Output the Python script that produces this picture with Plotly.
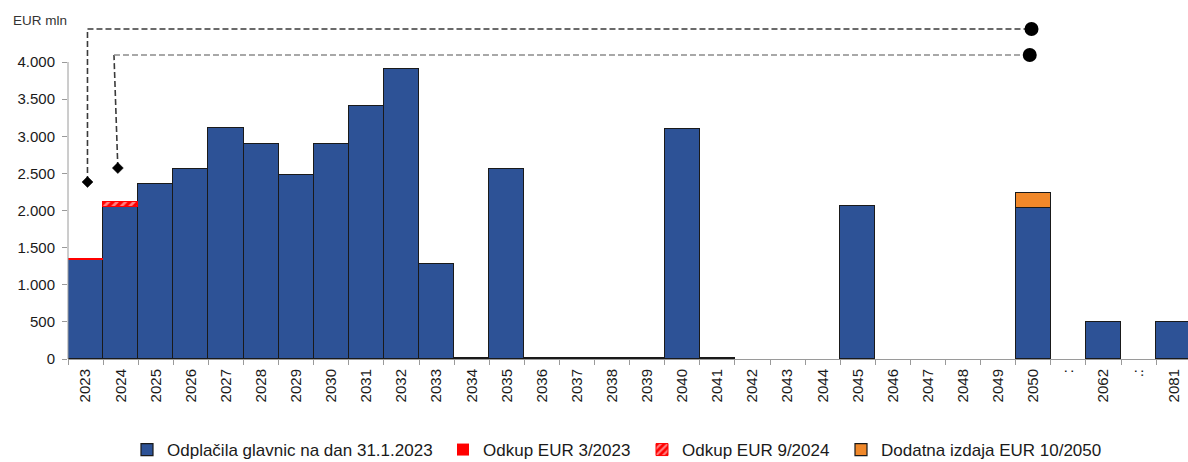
import plotly.graph_objects as go

# ---- data ----
categories = ["2023", "2024", "2025", "2026", "2027", "2028", "2029", "2030", "2031", "2032",
              "2033", "2034", "2035", "2036", "2037", "2038", "2039", "2040", "2041", "2042",
              "2043", "2044", "2045", "2046", "2047", "2048", "2049", "2050", ":", "2062", ".:", "2081"]
principal = [1330, 2045, 2355, 2557, 3117, 2892, 2473, 2895, 3410, 3905,
             1275, 15, 2560, 12, 12, 12, 12, 3100, 12, None,
             None, None, 2060, None, None, None, None, 2040, None, 500, None, 500]
buyback_2023 = [28] + [None] * 31
buyback_2024 = [None, 67] + [None] * 30
extra_2050 = [None] * 27 + [190] + [None] * 4
y_ticks = [0, 500, 1000, 1500, 2000, 2500, 3000, 3500, 4000]

names = ["Odplačila glavnic na dan 31.1.2023", "Odkup EUR 3/2023",
         "Odkup EUR 9/2024", "Dodatna izdaja EUR 10/2050"]

BLUE = "#2D5296"
RED = "#FF0000"
ORANGE = "#F0882A"
OUT = "#1a1a1a"
AXIS = "#9a9a9a"

fig = go.Figure()
fig.add_trace(go.Bar(x=categories, y=principal, name=names[0], legend="legend", showlegend=True,
                     marker=dict(color=BLUE, line=dict(color=OUT, width=1.2))))
fig.add_trace(go.Bar(x=categories, y=buyback_2023, name=names[1], legend="legend2", showlegend=True,
                     marker=dict(color=RED, line=dict(color=RED, width=0))))
fig.add_trace(go.Bar(x=categories, y=buyback_2024, name=names[2], legend="legend3", showlegend=True,
                     marker=dict(color=RED, line=dict(color=RED, width=1),
                                 pattern=dict(shape="/", fgcolor="white", bgcolor=RED,
                                              size=6, solidity=0.45))))
fig.add_trace(go.Bar(x=categories, y=extra_2050, name=names[3], legend="legend4", showlegend=True,
                     marker=dict(color=ORANGE, line=dict(color=OUT, width=1.2))))

# ---- layout geometry ----
W, H = 1188, 462
ML, MR, MT, MB = 68, 0, 5, 103
plot_w = W - ML - MR
plot_h = H - MT - MB
y_top = 4768
n_vis = plot_w / 35.1


def px_to_paper_x(px):
    return (px - ML) / plot_w


leg_font = dict(family="Liberation Sans, Arial, sans-serif", size=17, color="#1a1a1a")
legend_text_starts = [167, 483, 682, 881]
leg_common = dict(orientation="h", yanchor="middle", xanchor="left",
                  xref="container", yref="container",
                  font=leg_font, itemwidth=30, bgcolor="rgba(0,0,0,0)",
                  borderwidth=0, traceorder="normal", visible=True)
legends = {}
for i, ts in enumerate(legend_text_starts):
    key = "legend" if i == 0 else f"legend{i+1}"
    legends[key] = dict(leg_common, x=(ts - 40) / W, y=1 - 450 / H)

shapes = []
# y axis line only up to 4000
shapes.append(dict(type="line", xref="paper", yref="y", x0=0, x1=0, y0=0, y1=4000,
                   line=dict(color=AXIS, width=1)))
# dashed connectors
c1 = "#3a3a3a"
c2 = "#8c8c8c"
dash = "6px,3px"
shapes += [
    dict(type="line", xref="x", yref="y", x0=0.055, x1=0.055, y0=2384, y1=4444,
         line=dict(color=c1, width=1.6, dash=dash)),
    dict(type="line", xref="x", yref="y", x0=0.055, x1=26.85, y0=4444, y1=4444,
         line=dict(color=c1, width=1.6, dash=dash)),
    dict(type="line", xref="x", yref="y", x0=0.92, x1=0.81, y0=2572, y1=4094,
         line=dict(color=c1, width=1.6, dash=dash)),
    dict(type="line", xref="x", yref="y", x0=0.81, x1=26.8, y0=4094, y1=4094,
         line=dict(color=c2, width=1.6, dash=dash)),
]
# end markers
for xa, ya in [(0.055, 2384), (0.92, 2572)]:
    shapes.append(dict(type="path", xref="x", yref="y", xsizemode="pixel", ysizemode="pixel",
                       xanchor=xa, yanchor=ya, path="M0,-5.5 L5.5,0 L0,5.5 L-5.5,0 Z",
                       fillcolor="black", line=dict(color="black", width=0.5)))
for xa, ya in [(26.95, 4444), (26.9, 4094)]:
    shapes.append(dict(type="circle", xref="x", yref="y", xsizemode="pixel", ysizemode="pixel",
                       xanchor=xa, yanchor=ya, x0=-7, x1=7, y0=-7, y1=7,
                       fillcolor="black", line=dict(color="black", width=0)))

fig.update_layout(
    width=W, height=H,
    margin=dict(l=ML, r=MR, t=MT, b=MB, autoexpand=False),
    paper_bgcolor="white", plot_bgcolor="white",
    barmode="stack", bargap=0,
    separators=",.",
    showlegend=True,
    font=dict(family="Liberation Sans, Arial, sans-serif", color="#1a1a1a"),
    shapes=shapes,
    annotations=[dict(text="EUR mln", xref="paper", yref="y", x=px_to_paper_x(11), y=4566,
                      xanchor="left", yanchor="middle", showarrow=False,
                      font=dict(size=13.5, color="#333333"))],
    **legends,
)
fig.update_xaxes(type="category", categoryorder="array", categoryarray=categories,
                 range=[-0.5, -0.5 + n_vis],
                 showline=True, linecolor=AXIS, linewidth=1,
                 ticks="outside", tickson="boundaries", ticklen=5, tickcolor=AXIS,
                 tickangle=-90, tickfont=dict(size=15, color="#1a1a1a"), ticklabelstandoff=3,
                 showgrid=False, zeroline=False, fixedrange=True)
fig.update_yaxes(range=[0, y_top], tickvals=y_ticks, tickformat=",d",
                 showline=False, ticks="outside", ticklen=5, tickcolor=AXIS,
                 tickfont=dict(size=15, color="#1a1a1a"), ticklabelstandoff=4,
                 showgrid=False, zeroline=False, fixedrange=True)

fig.write_html("out.html", config={"displayModeBar": False},
               post_script="document.body.style.margin='0';document.body.style.padding='0';")
